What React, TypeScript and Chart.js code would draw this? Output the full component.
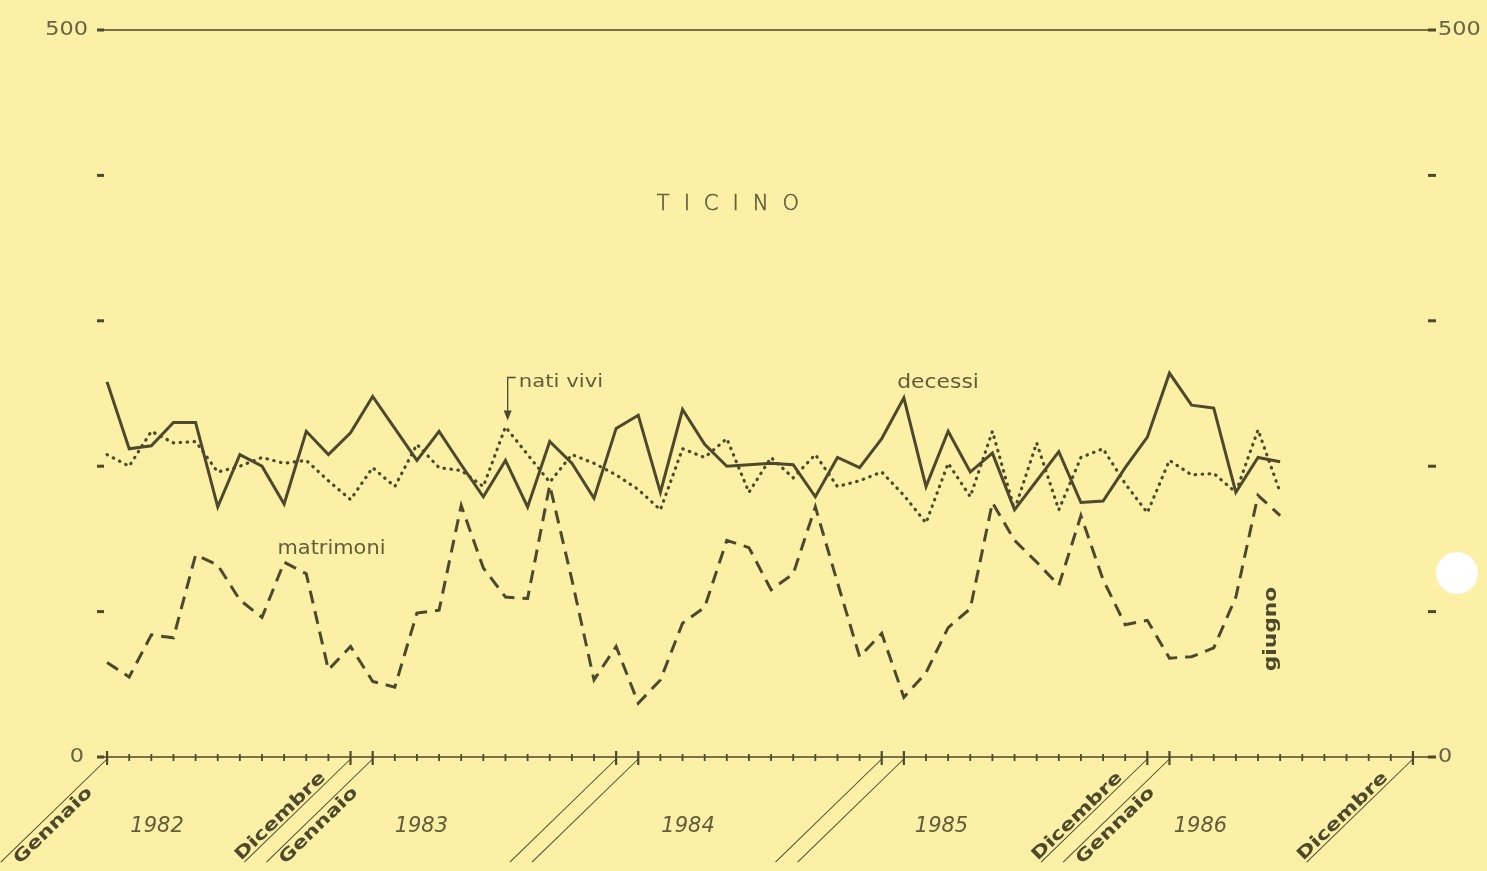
import { useEffect, useRef } from "react";
import { Chart, registerables } from "chart.js";

Chart.register(...registerables);

const years = ["1982", "1983", "1984", "1985", "1986"];
const monthNames = [
  "Gennaio", "Febbraio", "Marzo", "Aprile", "Maggio", "Giugno",
  "Luglio", "Agosto", "Settembre", "Ottobre", "Novembre", "Dicembre",
];
const months = years.flatMap((y) => monthNames.map((m) => `${m} ${y}`));

// Monthly values, Jan 1982 – Jun 1986
const decessi = [
  258, 212, 214, 230, 230, 172, 208, 200, 174, 224, 208, 223,
  248, 226, 204, 224, 201, 179, 204, 172, 217, 202, 178, 226,
  235, 182, 239, 215, 200, 201, 202, 201, 179, 206, 199, 219,
  247, 186, 224, 196, 209, 170, 190, 210, 175, 176, 199, 220,
  264, 242, 240, 182, 206, 203,
];
const natiVivi = [
  208, 200, 224, 216, 217, 196, 200, 206, 202, 204, 190, 177,
  199, 186, 215, 199, 197, 186, 227, 208, 189, 208, 202, 194,
  184, 170, 212, 206, 219, 182, 206, 192, 208, 186, 190, 196,
  180, 161, 202, 179, 224, 170, 216, 170, 206, 212, 188, 168,
  204, 194, 195, 182, 225, 182,
];
const matrimoni = [
  65, 55, 84, 82, 139, 132, 108, 96, 134, 126, 60, 76,
  52, 48, 99, 101, 173, 130, 110, 109, 187, 122, 53, 76,
  37, 53, 92, 103, 149, 144, 115, 126, 172, 120, 69, 85,
  41, 58, 89, 102, 175, 149, 134, 118, 166, 122, 91, 94,
  68, 69, 75, 110, 180, 166,
];

const yTickValues = [0, 100, 200, 300, 400, 500];
const yLabelValues = [0, 500];
const boundaryLabels: [number, string][] = [
  [0, "Gennaio"], [11, "Dicembre"], [12, "Gennaio"],
  [47, "Dicembre"], [48, "Gennaio"], [59, "Dicembre"],
];
const breakIndices = [23, 24, 35, 36];
const yearLabelPos = [2.26, 14.2, 26.25, 37.7, 49.4];
const title = "TICINO";

const BG = "#FBF0A6";
const INK = "#4e492c";
const TEXT = "#625c3c";
const FONT = "'DejaVu Sans', 'Noto Sans', sans-serif";

const deco = {
  id: "deco",
  beforeDraw(chart: any) {
    const { ctx, width, height } = chart;
    ctx.save();
    ctx.fillStyle = BG;
    ctx.fillRect(0, 0, width, height);
    ctx.restore();
  },
  afterDraw(chart: any) {
    const ctx: CanvasRenderingContext2D = chart.ctx;
    const xs = chart.scales.x;
    const ys = chart.scales.y;
    const ca = chart.chartArea;
    const line = (x1: number, y1: number, x2: number, y2: number) => {
      ctx.beginPath();
      ctx.moveTo(x1, y1);
      ctx.lineTo(x2, y2);
      ctx.stroke();
    };
    // text with horizontal stretch
    const text = (
      s: string, x: number, y: number, font: string,
      align: CanvasTextAlign, sx: number, rot = 0,
      baseline: CanvasTextBaseline = "middle",
    ) => {
      ctx.save();
      ctx.translate(x, y);
      if (rot) ctx.rotate(rot);
      ctx.scale(sx, 1);
      ctx.font = font;
      ctx.textAlign = align;
      ctx.textBaseline = baseline;
      ctx.fillText(s, 0, 0);
      ctx.restore();
    };
    ctx.save();
    ctx.strokeStyle = INK;
    ctx.fillStyle = INK;
    const yTop = ys.getPixelForValue(500);
    const y0 = ys.getPixelForValue(0);

    // frame lines
    ctx.lineWidth = 1.4;
    line(ca.left + 1, yTop, ca.right + 6, yTop);
    line(ca.left + 1, y0, ca.right + 6, y0);

    // y dashes
    ctx.lineWidth = 3;
    for (const t of yTickValues) {
      const py = ys.getPixelForValue(t);
      line(ca.left + 1, py, ca.left + 8, py);
      line(ca.right + 4, py, ca.right + 12, py);
    }

    // y labels
    ctx.fillStyle = "#6a6444";
    for (const v of yLabelValues) {
      const py = ys.getPixelForValue(v);
      text(String(v), v === 0 ? ca.left - 12 : ca.left - 8, py, `20px ${FONT}`, "right", 1.12);
      text(String(v), ca.right + 14, py, `20px ${FONT}`, "left", 1.12);
    }

    // month ticks
    ctx.strokeStyle = INK;
    for (let i = 0; i < months.length; i++) {
      const px = xs.getPixelForValue(i);
      const big = i % 12 === 0 || i % 12 === 11;
      ctx.lineWidth = big ? 2.2 : 1.8;
      line(px, y0 - (big ? 6 : 3), px, y0 + (big ? 8 : 4));
    }

    // diagonal break / label lines + labels (rotated frame: x up-right, y down-right)
    const ang = -0.77;
    const diagLine = (i: number) => {
      const px = xs.getPixelForValue(i);
      ctx.save();
      ctx.translate(px, y0 + 2);
      ctx.rotate(ang);
      ctx.lineWidth = 1;
      ctx.strokeStyle = INK;
      line(0, 0, -148, 0);
      ctx.restore();
    };
    boundaryLabels.forEach(([i]) => diagLine(i));
    breakIndices.forEach((i) => diagLine(i));

    ctx.fillStyle = INK;
    const SX = 1.3;
    for (const [i, lab] of boundaryLabels) {
      const px = xs.getPixelForValue(i);
      ctx.save();
      ctx.translate(px, y0 + 2);
      ctx.rotate(ang);
      ctx.font = `bold 17px ${FONT}`;
      ctx.textAlign = "right";
      ctx.textBaseline = "alphabetic";
      if (lab === "Gennaio") {
        ctx.translate(-34, 15);
      } else {
        ctx.translate(-31, -3);
      }
      ctx.scale(SX, 1);
      ctx.fillText(lab, 0, 0);
      ctx.restore();
    }

    // year labels
    ctx.fillStyle = TEXT;
    years.forEach((y, k) => {
      text(y, xs.getPixelForValue(yearLabelPos[k]), y0 + 70, `italic 21px ${FONT}`, "center", 1);
    });

    // title
    ctx.fillStyle = TEXT;
    ctx.font = `200 21px ${FONT}`;
    ctx.textAlign = "left";
    ctx.textBaseline = "middle";
    const spacing = 14;
    let total = 0;
    for (const ch of title) total += ctx.measureText(ch).width + spacing;
    total -= spacing;
    let cx = xs.getPixelForValue(28.05) - total / 2;
    const ty = ys.getPixelForValue(380);
    ctx.lineWidth = 0.6;
    ctx.strokeStyle = TEXT;
    for (const ch of title) {
      ctx.fillText(ch, cx, ty);
      ctx.strokeText(ch, cx, ty);
      cx += ctx.measureText(ch).width + spacing;
    }

    // series labels
    ctx.fillStyle = TEXT;
    text("nati vivi", xs.getPixelForValue(18.6), ys.getPixelForValue(258), `18px ${FONT}`, "left", 1.18);
    text("decessi", xs.getPixelForValue(35.7), ys.getPixelForValue(257), `19px ${FONT}`, "left", 1.15);
    text("matrimoni", xs.getPixelForValue(7.7), ys.getPixelForValue(143), `19px ${FONT}`, "left", 1.1);

    // nati vivi arrow bracket
    const bx = xs.getPixelForValue(18.1);
    const by = ys.getPixelForValue(261);
    ctx.strokeStyle = INK;
    ctx.lineWidth = 1.3;
    ctx.beginPath();
    ctx.moveTo(bx + 8, by);
    ctx.lineTo(bx, by);
    ctx.lineTo(bx, by + 36);
    ctx.stroke();
    ctx.fillStyle = INK;
    ctx.beginPath();
    ctx.moveTo(bx - 4, by + 33);
    ctx.lineTo(bx + 4, by + 33);
    ctx.lineTo(bx, by + 43);
    ctx.closePath();
    ctx.fill();

    // giugno
    ctx.fillStyle = INK;
    text("giugno", xs.getPixelForValue(52.6), ys.getPixelForValue(88), `bold 17px ${FONT}`, "center", 1.28, -Math.PI / 2);

    // punch hole
    ctx.fillStyle = "#ffffff";
    ctx.beginPath();
    ctx.arc(1457, 573, 21, 0, Math.PI * 2);
    ctx.fill();

    ctx.restore();
  },
};

export default function App() {
  const ref = useRef<HTMLCanvasElement | null>(null);
  useEffect(() => {
    if (!ref.current) return;
    const chart = new Chart(ref.current, {
      type: "line",
      data: {
        labels: months,
        datasets: [
          {
            label: "decessi",
            data: decessi,
            borderColor: INK,
            borderWidth: 3,
            pointRadius: 0,
            tension: 0,
            fill: false,
          },
          {
            label: "nati vivi",
            data: natiVivi,
            borderColor: INK,
            borderWidth: 3.2,
            borderDash: [0.5, 6.5],
            borderCapStyle: "round",
            pointRadius: 0,
            tension: 0,
            fill: false,
          },
          {
            label: "matrimoni",
            data: matrimoni,
            borderColor: INK,
            borderWidth: 3,
            borderDash: [13, 8],
            pointRadius: 0,
            tension: 0,
            fill: false,
          },
        ],
      },
      options: {
        responsive: false,
        animation: false,
        events: [],
        layout: { padding: { left: 96, right: 63, top: 30, bottom: 114 } },
        plugins: { legend: { display: false }, tooltip: { enabled: false } },
        scales: {
          x: { type: "category", offset: true, display: false },
          y: { type: "linear", min: 0, max: 500, display: false },
        },
      },
      plugins: [deco],
    } as any);
    return () => chart.destroy();
  }, []);
  return (
    <div style={{ position: "fixed", left: 0, top: 0, width: 1487, height: 871 }}>
      <canvas ref={ref} width={1487} height={871} style={{ display: "block" }} />
    </div>
  );
}
